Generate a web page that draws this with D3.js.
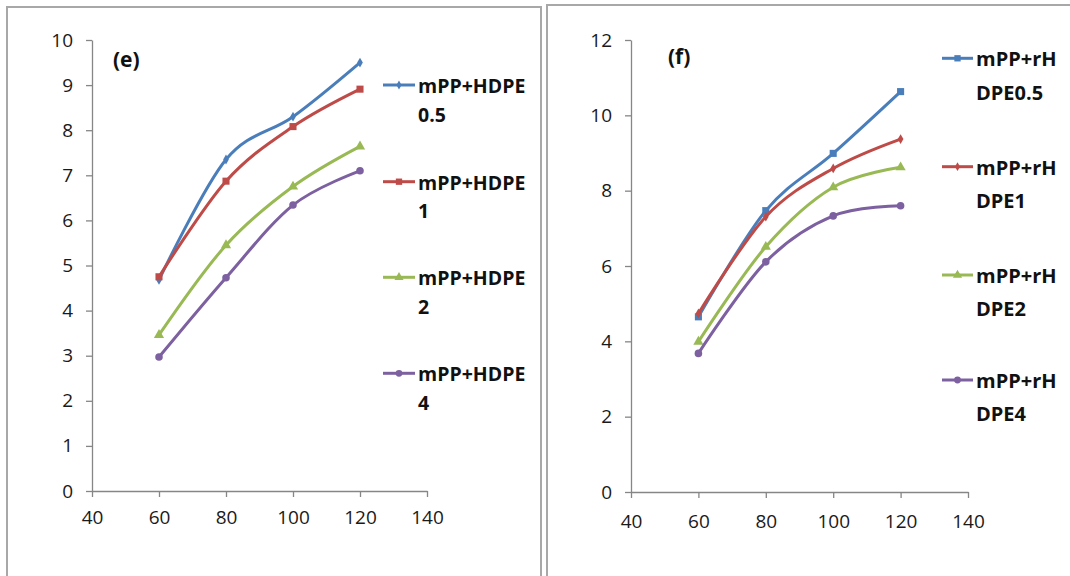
<!DOCTYPE html>
<html>
<head>
<meta charset="utf-8">
<script src="https://cdn.jsdelivr.net/npm/d3@7"></script>
<style>
  body { margin: 0; background: #fff; }
  svg { display: block; }
</style>
</head>
<body>
<div id="chart"></div>
<script>
// x values shared by both panels
var xValues = [60, 80, 100, 120];

// panel (e)
var namesE = ["mPP+HDPE 0.5", "mPP+HDPE 1", "mPP+HDPE 2", "mPP+HDPE 4"];
var legendE = [["mPP+HDPE", "0.5"], ["mPP+HDPE", "1"], ["mPP+HDPE", "2"], ["mPP+HDPE", "4"]];
var valuesE = [
  [4.68, 7.35, 8.30, 9.50],
  [4.75, 6.87, 8.08, 8.91],
  [3.46, 5.45, 6.75, 7.64],
  [2.97, 4.73, 6.34, 7.10]
];
var yTicksE = [0, 1, 2, 3, 4, 5, 6, 7, 8, 9, 10];

// panel (f)
var namesF = ["mPP+rHDPE0.5", "mPP+rHDPE1", "mPP+rHDPE2", "mPP+rHDPE4"];
var legendF = [["mPP+rH", "DPE0.5"], ["mPP+rH", "DPE1"], ["mPP+rH", "DPE2"], ["mPP+rH", "DPE4"]];
var valuesF = [
  [4.65, 7.47, 8.99, 10.63],
  [4.74, 7.31, 8.59, 9.37],
  [3.99, 6.51, 8.09, 8.62],
  [3.68, 6.11, 7.33, 7.60]
];
var yTicksF = [0, 2, 4, 6, 8, 10, 12];

var xTicks = [40, 60, 80, 100, 120, 140];
var colors = ["#4a7ebb", "#be4b48", "#98b954", "#7d60a0"];

var svg = d3.select("#chart").append("svg")
  .attr("width", 1070)
  .attr("height", 576);

svg.append("rect").attr("width", 1070).attr("height", 576).attr("fill", "#fff");

// panel frames
svg.append("rect")
  .attr("x", 7).attr("y", 7).attr("width", 534).attr("height", 620)
  .attr("fill", "none").attr("stroke", "#a8a8a8").attr("stroke-width", 2);
svg.append("rect")
  .attr("x", 547).attr("y", 5).attr("width", 560).attr("height", 620)
  .attr("fill", "none").attr("stroke", "#a8a8a8").attr("stroke-width", 2);

function drawPanel(cfg) {
  var g = svg.append("g");
  var x = d3.scaleLinear().domain([40, 140]).range(cfg.xRange);
  var y = d3.scaleLinear().domain(cfg.yDomain).range(cfg.yRange);

  var yAxis = g.append("g")
    .attr("transform", "translate(" + cfg.xRange[0] + ",0)")
    .call(d3.axisLeft(y).tickValues(cfg.yTicks).tickSize(6).tickSizeOuter(0).tickPadding(13));
  var xAxis = g.append("g")
    .attr("transform", "translate(0," + cfg.yRange[0] + ")")
    .call(d3.axisBottom(x).tickValues(xTicks).tickSize(6).tickSizeOuter(0).tickPadding(cfg.xPad));

  [yAxis, xAxis].forEach(function(a) {
    a.select(".domain").attr("stroke", "#868686").attr("stroke-width", 1.3);
    a.selectAll(".tick line").attr("stroke", "#868686").attr("stroke-width", 1.3);
    a.selectAll(".tick text")
      .attr("fill", "#1a1a1a")
      .style("font-family", "'Open Sans', sans-serif")
      .style("font-size", "19px");
  });

  g.append("text")
    .attr("x", cfg.titlePos[0]).attr("y", cfg.titlePos[1])
    .style("font-family", "'Open Sans', sans-serif")
    .style("font-weight", "bold")
    .style("font-size", "21px")
    .attr("fill", "#111")
    .text(cfg.title);

  var line = d3.line()
    .x(function(d, i) { return x(xValues[i]); })
    .y(function(d) { return y(d); })
    .curve(d3.curveCatmullRom.alpha(0));

  cfg.values.forEach(function(vals, s) {
    g.append("path")
      .datum(vals)
      .attr("d", line)
      .attr("fill", "none")
      .attr("stroke", colors[s])
      .attr("stroke-width", 3)
      .attr("stroke-linejoin", "round");

    g.selectAll(".m" + s)
      .data(vals)
      .enter()
      .append("path")
        .attr("transform", function(d, i) { return "translate(" + x(xValues[i]) + "," + y(d) + ")"; })
        .attr("d", d3.symbol().type(cfg.symbols[s].type).size(cfg.symbols[s].size))
        .attr("fill", colors[s]);

    // legend
    var ly = cfg.legendY[s];
    var lg = g.append("g");
    lg.append("line")
      .attr("x1", cfg.legendX[0]).attr("x2", cfg.legendX[1])
      .attr("y1", ly).attr("y2", ly)
      .attr("stroke", colors[s]).attr("stroke-width", 3);
    lg.append("path")
      .attr("transform", "translate(" + ((cfg.legendX[0] + cfg.legendX[1]) / 2) + "," + ly + ")")
      .attr("d", d3.symbol().type(cfg.symbols[s].type).size(cfg.symbols[s].size * 0.8))
      .attr("fill", colors[s]);
    cfg.legend[s].forEach(function(txt, k) {
      lg.append("text")
        .attr("x", cfg.legendX[1] + 3)
        .attr("y", ly + 8 + k * cfg.lineGap)
        .style("font-family", "'Open Sans', sans-serif")
        .style("font-weight", "bold")
        .style("font-size", cfg.legendFont)
        .attr("fill", "#111")
        .text(txt);
    });
  });
}

drawPanel({
  title: "(e)", titlePos: [113, 67],
  xRange: [92, 427], yRange: [491, 40], yDomain: [0, 10], yTicks: yTicksE, xPad: 14,
  values: valuesE, legend: legendE,
  symbols: [
    { type: d3.symbolDiamond, size: 28 },
    { type: d3.symbolSquare, size: 50 },
    { type: d3.symbolTriangle, size: 45 },
    { type: d3.symbolCircle, size: 45 }
  ],
  legendX: [383, 415], legendY: [85, 181.7, 277.3, 373.3], lineGap: 28.5, legendFont: "19.5px"
});

drawPanel({
  title: "(f)", titlePos: [668, 64],
  xRange: [631, 968], yRange: [492, 40], yDomain: [0, 12], yTicks: yTicksF, xPad: 17,
  values: valuesF, legend: legendF,
  symbols: [
    { type: d3.symbolSquare, size: 50 },
    { type: d3.symbolDiamond, size: 28 },
    { type: d3.symbolTriangle, size: 45 },
    { type: d3.symbolCircle, size: 45 }
  ],
  legendX: [942, 973], legendY: [58.3, 166.7, 275, 380], lineGap: 33.3, legendFont: "20px"
});
</script>
</body>
</html>
